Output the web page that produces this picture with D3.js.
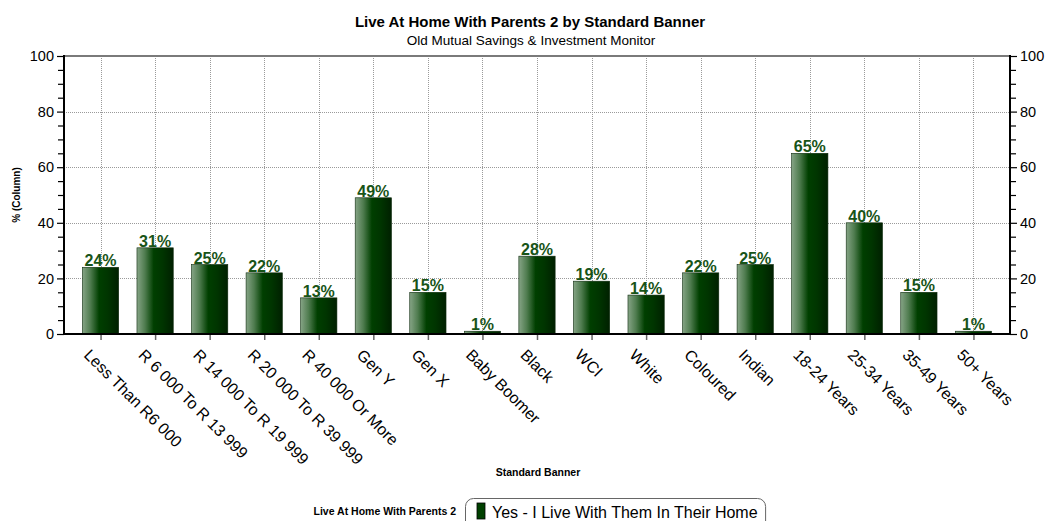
<!DOCTYPE html>
<html>
<head>
<meta charset="utf-8">
<script src="https://cdn.jsdelivr.net/npm/d3@7"></script>
<style>
  html, body { margin: 0; padding: 0; background: #fff; }
  svg { display: block; font-family: Arial, "Liberation Sans", sans-serif; }
</style>
</head>
<body>
<svg id="chart" width="1057" height="521"></svg>
<script>
// Share of respondents living at home with their parents, by banner group
const categories = [
  "Less Than R6 000", "R 6 000 To R 13 999", "R 14 000 To R 19 999",
  "R 20 000 To R 39 999", "R 40 000 Or More", "Gen Y", "Gen X",
  "Baby Boomer", "Black", "WCI", "White", "Coloured", "Indian",
  "18-24 Years", "25-34 Years", "35-49 Years", "50+ Years"
];
const values = [24, 31, 25, 22, 13, 49, 15, 1, 28, 19, 14, 22, 25, 65, 40, 15, 1];
const yTicks = [0, 20, 40, 60, 80, 100];
const yMinorTicks = [5, 10, 15, 25, 30, 35, 45, 50, 55, 65, 70, 75, 85, 90, 95];
const seriesName = "Yes - I Live With Them In Their Home";
const legendTitle = "Live At Home With Parents 2";
const title = "Live At Home With Parents 2 by Standard Banner";
const subtitle = "Old Mutual Savings & Investment Monitor";
const xTitle = "Standard Banner";
const yTitle = "% (Column)";

const svg = d3.select("#chart");
const plot = { left: 64, right: 1010, top: 56, bottom: 334 };

const x = d3.scalePoint().domain(categories).range([plot.left, plot.right]).padding(0.67);
const y = d3.scaleLinear().domain([0, 100]).range([plot.bottom, plot.top]);
const barW = x.step() * 0.665;

// bar fill: pale green on the left fading into deep green
const defs = svg.append("defs");
const grad = defs.append("linearGradient").attr("id", "barGrad")
  .attr("x1", "0%").attr("x2", "100%").attr("y1", "0%").attr("y2", "0%");
grad.append("stop").attr("offset", "0%").attr("stop-color", "#86a486");
grad.append("stop").attr("offset", "22%").attr("stop-color", "#4f7c4f");
grad.append("stop").attr("offset", "46%").attr("stop-color", "#003f00");
grad.append("stop").attr("offset", "70%").attr("stop-color", "#003500");
grad.append("stop").attr("offset", "100%").attr("stop-color", "#002000");

// titles
svg.append("text").attr("x", 530).attr("y", 27).attr("text-anchor", "middle")
  .attr("font-size", 15).attr("font-weight", "bold").text(title);
svg.append("text").attr("x", 531).attr("y", 45).attr("text-anchor", "middle")
  .attr("font-size", 13.5).text(subtitle);

// gridlines
const grid = svg.append("g").attr("stroke", "#9a9a9a").attr("stroke-dasharray", "1,1").attr("stroke-width", 1);
grid.selectAll("line.h").data(yTicks.filter(d => d > 0 && d < 100)).join("line")
  .attr("x1", plot.left).attr("x2", plot.right)
  .attr("y1", d => Math.round(y(d)) + 0.5).attr("y2", d => Math.round(y(d)) + 0.5);
grid.selectAll("line.v").data(categories).join("line")
  .attr("x1", d => Math.round(x(d)) + 0.5).attr("x2", d => Math.round(x(d)) + 0.5)
  .attr("y1", plot.top).attr("y2", plot.bottom);

// top frame line
svg.append("line").attr("x1", plot.left).attr("x2", plot.right)
  .attr("y1", plot.top).attr("y2", plot.top)
  .attr("stroke", "#7a7a7a").attr("stroke-width", 2);

// bars
svg.append("g").selectAll("rect").data(values).join("rect")
  .attr("x", (d, i) => x(categories[i]) - barW / 2)
  .attr("y", d => y(d))
  .attr("width", barW)
  .attr("height", d => y(0) - y(d))
  .attr("fill", "url(#barGrad)")
  .attr("stroke", "#0d2a0d").attr("stroke-width", 0.6);

// value labels
svg.append("g").selectAll("text").data(values).join("text")
  .attr("x", (d, i) => x(categories[i]))
  .attr("y", d => y(d) - 1)
  .attr("text-anchor", "middle")
  .attr("font-size", 16).attr("font-weight", "bold")
  .attr("fill", "#185418")
  .text(d => d + "%");

// axes
function styleAxis(g) {
  g.select(".domain").remove();
  g.selectAll(".tick line").attr("stroke", "#000").attr("stroke-width", 1.2);
  g.selectAll(".tick text").attr("font-size", 14.5).attr("fill", "#000")
    .attr("font-family", "Arial, 'Liberation Sans', sans-serif");
}
svg.append("g").attr("transform", `translate(${plot.left},0)`)
  .call(d3.axisLeft(y).tickValues(yTicks).tickSize(7).tickPadding(3)).call(styleAxis);
svg.append("g").attr("transform", `translate(${plot.left},0)`)
  .call(d3.axisLeft(y).tickValues(yMinorTicks).tickSize(6).tickFormat("")).call(styleAxis);
svg.append("g").attr("transform", `translate(${plot.right},0)`)
  .call(d3.axisRight(y).tickValues(yTicks).tickSize(7).tickPadding(3)).call(styleAxis);
svg.append("g").attr("transform", `translate(${plot.right},0)`)
  .call(d3.axisRight(y).tickValues(yMinorTicks).tickSize(6).tickFormat("")).call(styleAxis);

const xa = svg.append("g").attr("transform", `translate(0,${plot.bottom})`)
  .call(d3.axisBottom(x).tickSize(6));
xa.select(".domain").remove();
xa.selectAll(".tick line").attr("stroke", "#666").attr("stroke-width", 1.5);
xa.selectAll(".tick text")
  .attr("font-size", 16).attr("fill", "#000")
  .attr("font-family", "Arial, 'Liberation Sans', sans-serif")
  .attr("text-anchor", "start")
  .attr("x", 0).attr("y", 0).attr("dy", 0)
  .attr("transform", "translate(-18,22) rotate(45)");

// axis lines drawn over the bars
svg.append("line").attr("x1", plot.left).attr("x2", plot.left)
  .attr("y1", plot.top - 1).attr("y2", plot.bottom + 1).attr("stroke", "#000").attr("stroke-width", 2);
svg.append("line").attr("x1", plot.right).attr("x2", plot.right)
  .attr("y1", plot.top - 1).attr("y2", plot.bottom + 1).attr("stroke", "#000").attr("stroke-width", 2);
svg.append("line").attr("x1", plot.left).attr("x2", plot.right)
  .attr("y1", plot.bottom).attr("y2", plot.bottom).attr("stroke", "#000").attr("stroke-width", 2);

// axis titles
svg.append("text").attr("transform", `translate(20,${(plot.top + plot.bottom) / 2}) rotate(-90)`)
  .attr("text-anchor", "middle").attr("font-size", 10).attr("font-weight", "bold").text(yTitle);
svg.append("text").attr("x", 538).attr("y", 476).attr("text-anchor", "middle")
  .attr("font-size", 10.5).attr("font-weight", "bold").text(xTitle);

// legend
const lg = svg.append("g");
lg.append("text").attr("x", 456).attr("y", 515).attr("text-anchor", "end")
  .attr("font-size", 10.5).attr("font-weight", "bold").text(legendTitle);
const legendText = lg.append("text").attr("x", 492).attr("y", 518).attr("font-size", 16).text(seriesName);
const textEnd = 492 + legendText.node().getComputedTextLength();
lg.insert("rect", "text:last-child").attr("x", 465.5).attr("y", 498.5)
  .attr("width", textEnd + 8 - 465.5).attr("height", 34)
  .attr("rx", 8).attr("fill", "#fff").attr("stroke", "#666").attr("stroke-width", 1);
lg.append("rect").attr("x", 477).attr("y", 503).attr("width", 8).attr("height", 16)
  .attr("fill", "#004000").attr("stroke", "#000").attr("stroke-width", 0.8);
legendText.raise();
</script>
</body>
</html>
